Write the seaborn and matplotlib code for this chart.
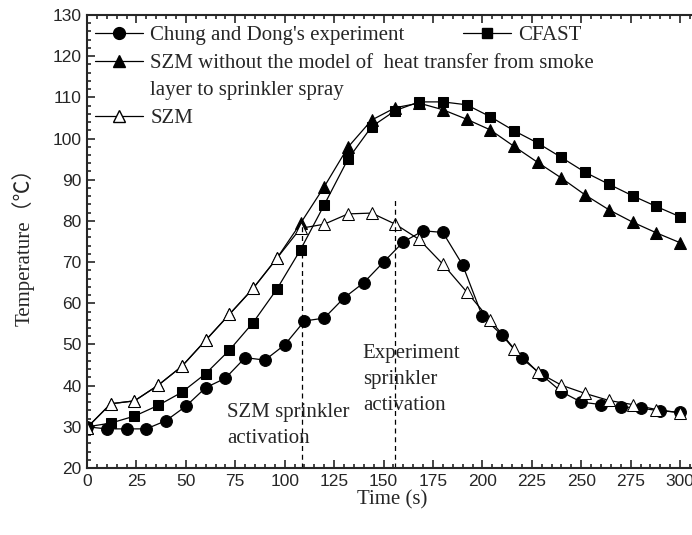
import seaborn as sns
import matplotlib.pyplot as plt
from matplotlib.lines import Line2D
from matplotlib.ticker import MultipleLocator

# Data
exp_time = list(range(0, 301, 10))
exp_temp = [30.0, 29.5, 29.5, 29.5, 31.5, 35.0, 39.5, 41.8, 46.8, 46.2, 49.9,
            55.7, 56.4, 61.3, 65.0, 70.0, 74.9, 77.6, 77.2, 69.3, 56.8,
            52.2, 46.6, 42.6, 38.5, 36.0, 35.4, 34.9, 34.5, 33.9, 33.5]

model_time = list(range(0, 301, 12))
cfast_temp = [30.0, 30.9, 32.6, 35.2, 38.4, 42.9, 48.6, 55.3, 63.4, 73.0,
              83.9, 95.0, 102.9, 106.8, 108.9, 108.9, 108.2, 105.3, 101.9,
              98.9, 95.4, 91.8, 88.9, 86.1, 83.5, 81.0]
szm_nohx_temp = [29.8, 35.6, 36.3, 40.1, 44.7, 51.0, 57.3, 63.6, 70.9, 79.4,
                 88.3, 97.9, 104.5, 107.5, 108.6, 107.0, 104.7, 102.1, 98.1,
                 94.2, 90.4, 86.3, 82.7, 79.7, 77.1, 74.7]
szm_temp = [29.8, 35.6, 36.3, 40.1, 44.7, 51.0, 57.3, 63.6, 70.9, 78.2,
            79.2, 81.7, 81.9, 79.2, 75.5, 69.5, 62.8, 55.9, 49.0, 43.3,
            40.1, 38.1, 36.4, 35.4, 34.2, 33.4]

szm_activation = 108.5
exp_activation = 156

sns.set_style("ticks")
serif = ['Liberation Serif', 'Noto Sans CJK SC', 'DejaVu Sans']
plt.rcParams['font.family'] = serif
fs = 15

fig = plt.figure(figsize=(6.92, 5.35), dpi=100)
ax = fig.add_axes([87 / 692, 67 / 535, 618.8 / 692, 453 / 535])

line_kw = dict(color='black', linewidth=0.9, markeredgecolor='black')

sns.lineplot(x=exp_time, y=exp_temp, ax=ax, marker='o', markersize=8.5,
             markerfacecolor='black', **line_kw)
sns.lineplot(x=model_time, y=cfast_temp, ax=ax, marker='s', markersize=7,
             markerfacecolor='black', **line_kw)
sns.lineplot(x=model_time, y=szm_nohx_temp, ax=ax, marker='^', markersize=9,
             markerfacecolor='black', **line_kw)
sns.lineplot(x=model_time, y=szm_temp, ax=ax, marker='^', markersize=9,
             markerfacecolor='white', **line_kw)

# Sprinkler activation markers
ax.vlines(szm_activation, 20, 79, colors='black', linestyles=(0, (4, 3)), linewidth=0.9)
ax.vlines(exp_activation, 20, 85, colors='black', linestyles=(0, (4, 3)), linewidth=0.9)

ax.text(71, 30.2, 'SZM sprinkler\nactivation', fontsize=fs, va='center',
        ha='left', linespacing=1.5)
ax.text(139.5, 41.4, 'Experiment\nsprinkler\nactivation', fontsize=fs,
        va='center', ha='left', linespacing=1.5)

ax.set_xlim(0, 618.8 / 1.977)
ax.set_ylim(20, 130)
ax.xaxis.set_major_locator(MultipleLocator(25))
ax.xaxis.set_minor_locator(MultipleLocator(5))
ax.yaxis.set_major_locator(MultipleLocator(10))
ax.yaxis.set_minor_locator(MultipleLocator(2))
ax.tick_params(which='both', direction='in', top=True, right=True, width=1.2)
ax.tick_params(which='major', length=6, labelsize=12.5, pad=4)
ax.tick_params(which='minor', length=3)
for lab in ax.get_xticklabels() + ax.get_yticklabels():
    lab.set_family('Liberation Sans')
for spine in ax.spines.values():
    spine.set_linewidth(1.5)

ax.set_xlabel('Time (s)', fontsize=fs)
ax.set_ylabel('Temperature（℃）', fontsize=fs)
ax.xaxis.set_label_coords(0.4926, -0.05)
ax.yaxis.set_label_coords(-0.085, 0.5)

# Legends
def handle(marker, face):
    return Line2D([], [], color='black', linewidth=0.9, marker=marker,
                  markersize=9 if marker == '^' else (8.5 if marker == 'o' else 7),
                  markerfacecolor=face, markeredgecolor='black')

blank = Line2D([], [], color='none')
leg1 = ax.legend([handle('o', 'black'), handle('^', 'black'), blank, handle('^', 'white')],
                 ["Chung and Dong's experiment",
                  'SZM without the model of  heat transfer from smoke',
                  'layer to sprinkler spray', 'SZM'],
                 loc='upper left', bbox_to_anchor=(8 / 618.8, 0.976),
                 frameon=False, fontsize=fs, borderpad=0, borderaxespad=0,
                 handlelength=2.3, handletextpad=0.35, labelspacing=0.38)
ax.add_artist(leg1)
ax.legend([handle('s', 'black')], ['CFAST'], loc='upper left',
          bbox_to_anchor=(376 / 618.8, 0.976), frameon=False, fontsize=fs,
          borderpad=0, borderaxespad=0, handlelength=2.3, handletextpad=0.35)

fig.savefig('out.png', dpi=100)
